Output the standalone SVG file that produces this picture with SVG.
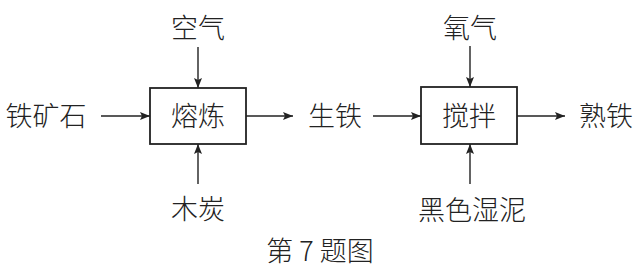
<svg xmlns="http://www.w3.org/2000/svg" width="641" height="268" viewBox="0 0 641 268">
<style>
text{font-family:"Noto Sans CJK SC","Noto Sans CJK JP",sans-serif;font-size:27px;fill:#222;font-weight:300}
.box{fill:#fff;stroke:#222;stroke-width:1.8}
.ln{stroke:#222;stroke-width:1.4;fill:none;marker-end:url(#ah)}
</style>
<defs>
<marker id="ah" viewBox="0 0 10 8" refX="10" refY="4" markerWidth="10" markerHeight="8" markerUnits="userSpaceOnUse" orient="auto">
<path d="M0,0 L10,4 L0,8 L2,4 Z" fill="#222"/>
</marker>
</defs>
<rect width="641" height="268" fill="#fff"/>
<g id="connectors">
<line class="ln" x1="101" y1="116" x2="150" y2="116"/>
<line class="ln" x1="198" y1="47" x2="198" y2="88"/>
<line class="ln" x1="198" y1="184" x2="198" y2="144"/>
<line class="ln" x1="246" y1="116" x2="293" y2="116"/>
<line class="ln" x1="373" y1="116" x2="421" y2="116"/>
<line class="ln" x1="470" y1="46" x2="470" y2="87"/>
<line class="ln" x1="470" y1="184" x2="470" y2="144"/>
<line class="ln" x1="517" y1="116" x2="565" y2="116"/>
</g>
<g id="smelt"><rect class="box" x="150" y="88" width="96" height="56"/><text x="198" y="126" text-anchor="middle">熔炼</text></g>
<g id="stir"><rect class="box" x="421" y="87" width="96" height="57"/><text x="469" y="126" text-anchor="middle">搅拌</text></g>
<g id="ore"><text x="46" y="126" text-anchor="middle">铁矿石</text></g>
<g id="air"><text x="198" y="38" text-anchor="middle">空气</text></g>
<g id="charcoal"><text x="198" y="219" text-anchor="middle">木炭</text></g>
<g id="pigiron"><text x="335" y="126" text-anchor="middle">生铁</text></g>
<g id="oxygen"><text x="470" y="38" text-anchor="middle">氧气</text></g>
<g id="mud"><text x="472" y="220" text-anchor="middle">黑色湿泥</text></g>
<g id="wrought"><text x="606" y="126" text-anchor="middle">熟铁</text></g>
<text x="320" y="261" text-anchor="middle" style="font-size:27px">第 7 题图</text>
</svg>
